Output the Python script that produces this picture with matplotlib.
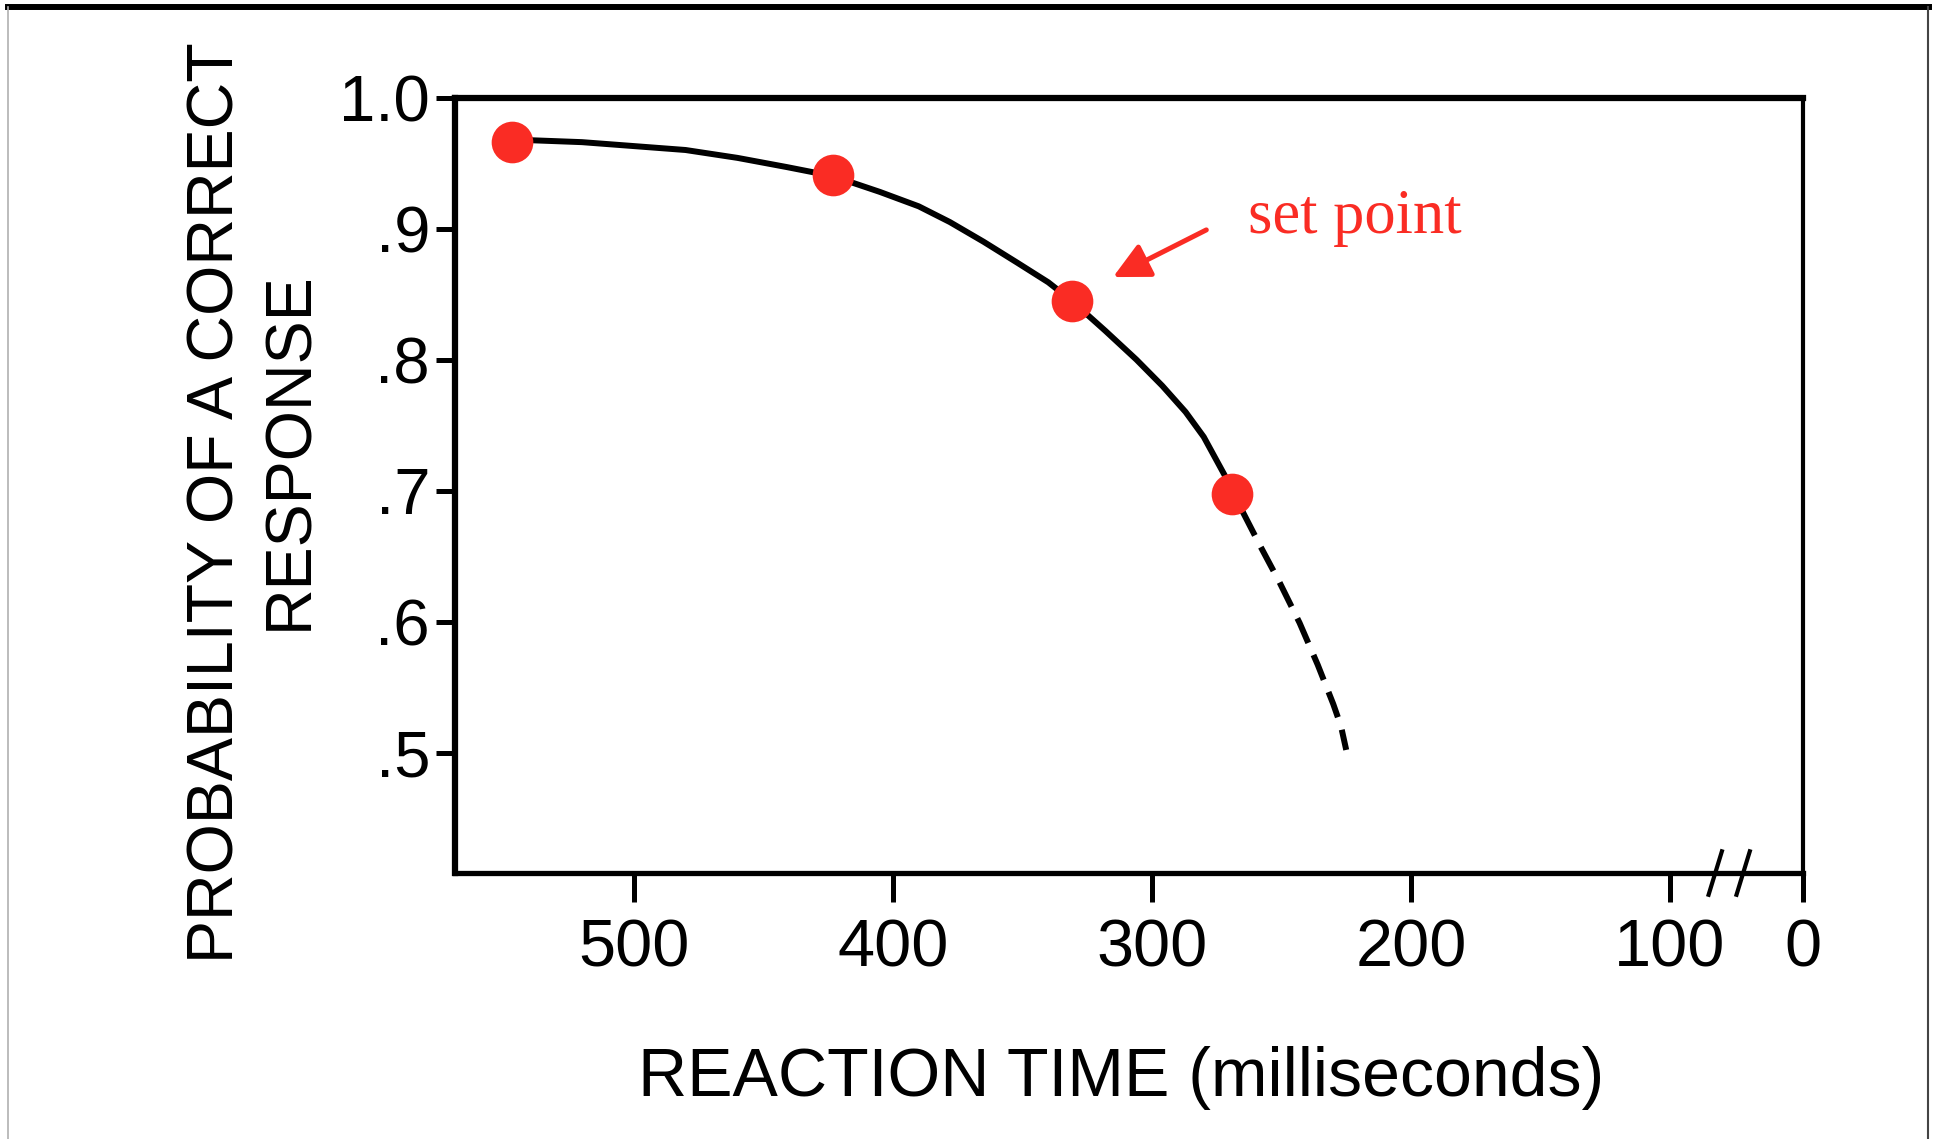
import numpy as np
import matplotlib
matplotlib.use("Agg")
import matplotlib.pyplot as plt
from matplotlib.lines import Line2D

# reaction time (ms) vs probability of a correct response
rt_solid = [547, 520, 500, 480, 460, 441, 423, 405, 390, 378, 365, 352, 340,
            331, 318, 306, 296, 287, 280, 272, 265]
p_solid = [0.968, 0.966, 0.963, 0.960, 0.954, 0.947, 0.940, 0.928, 0.917,
           0.905, 0.890, 0.874, 0.859, 0.845, 0.822, 0.800, 0.780, 0.760,
           0.741, 0.712, 0.684]
rt_dashed = [265, 258, 251, 243, 236, 230, 227, 225]
p_dashed = [0.684, 0.657, 0.631, 0.599, 0.567, 0.537, 0.520, 0.502]

# highlighted points on the curve
dot_rt = [547, 423, 331, 269]
dot_p = [0.966, 0.941, 0.845, 0.697]

x_ticks = [500, 400, 300, 200, 100, 0]
x_labels = ["500", "400", "300", "200", "100", "0"]
y_ticks = [0.5, 0.6, 0.7, 0.8, 0.9, 1.0]
y_labels = [".5", ".6", ".7", ".8", ".9", "1.0"]

RED = "#fa2c24"
plt.rcParams["font.family"] = ["Liberation Sans", "DejaVu Sans"]

# axis break between 100 and 0: squeeze that part of the scale
K = 0.513
def fwd(x):
    x = np.asarray(x, dtype=float)
    return np.where(x >= 100, x, 100 - (100 - x) * K)

def inv(u):
    u = np.asarray(u, dtype=float)
    return np.where(u >= 100, u, 100 - (100 - u) / K)

fig = plt.figure(figsize=(19.37, 11.39), dpi=100)
ax = fig.add_axes([0.2349, 0.2335, 0.6959, 0.6808])
ax.set_xscale("function", functions=(fwd, inv))
ax.set_xlim(569, 0)
ax.set_ylim(0.408, 1.0)

ax.plot(rt_solid, p_solid, color="black", lw=4.3, solid_capstyle="round",
        solid_joinstyle="round", zorder=2)
ax.plot(rt_dashed, p_dashed, color="black", lw=4.3, dashes=(4.5, 2.2), zorder=2)
ax.plot(dot_rt, dot_p, "o", color=RED, ms=30, mec="none", zorder=3)

ax.annotate("", xy=(315, 0.863), xytext=(279, 0.899),
            arrowprops=dict(arrowstyle="-|>", color=RED, lw=3.6,
                            mutation_scale=55, shrinkA=0, shrinkB=0))
ax.text(263, 0.897, "set point", color=RED, fontsize=45, va="baseline",
        ha="left", family=["Liberation Serif", "DejaVu Serif"])

ax.set_xticks(x_ticks)
ax.set_xticklabels(x_labels)
ax.set_yticks(y_ticks)
ax.set_yticklabels(y_labels)
ax.xaxis.set_minor_locator(matplotlib.ticker.NullLocator())
ax.tick_params(axis="x", direction="out", length=21, width=3.6, pad=12,
               labelsize=48)
ax.tick_params(axis="y", direction="out", length=14, width=3.6, pad=4,
               labelsize=47)

for side, w in [("left", 4.5), ("top", 4.5), ("right", 3.0), ("bottom", 3.8)]:
    ax.spines[side].set_linewidth(w)

# break marks on the x axis
trans = ax.get_xaxis_transform()
for xb in [66, 45]:
    ax.plot([xb + 5, xb - 5], [-0.028, 0.028], color="black", lw=3.0,
            transform=trans, clip_on=False, zorder=4)

fig.text(0.112, 0.5584, "PROBABILITY OF A CORRECT", rotation=90, ha="center",
         va="center", fontsize=46.5)
fig.text(0.1500, 0.604, "RESPONSE", rotation=90, ha="center", va="center",
         fontsize=46.5)
fig.text(0.5787, 0.0536, "REACTION TIME (milliseconds)", ha="center",
         va="center", fontsize=49)

# page frame
fig.add_artist(Line2D([0.004, 0.996], [0.9939, 0.9939], color="black", lw=4.3,
                      transform=fig.transFigure))
fig.add_artist(Line2D([0.0041, 0.0041], [0, 0.994], color="#b0b0b0", lw=1.2,
                      transform=fig.transFigure))
fig.add_artist(Line2D([0.9954, 0.9954], [0, 0.994], color="#444444", lw=1.5,
                      transform=fig.transFigure))

fig.savefig("out.png", dpi=100)
